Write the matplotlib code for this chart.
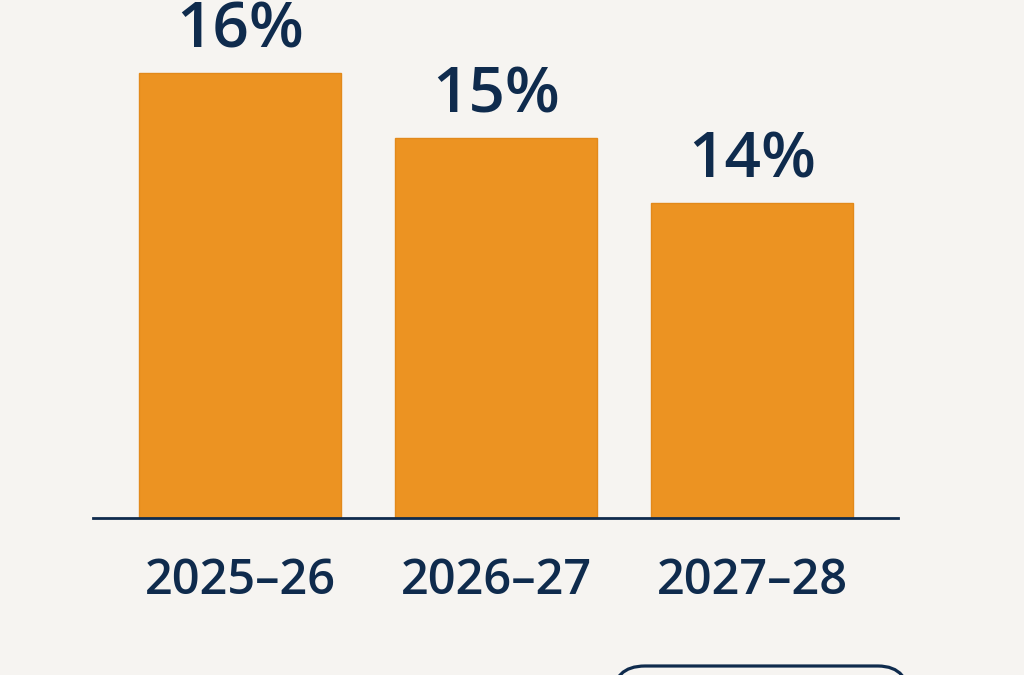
import matplotlib.pyplot as plt
from matplotlib.patches import FancyBboxPatch
from matplotlib.transforms import IdentityTransform

# chart values
years = ["2025\u201326", "2026\u201327", "2027\u201328"]
shares = [16, 15, 14]
share_labels = ["16%", "15%", "14%"]

BG = "#f6f4f1"
ORANGE = "#ec9322"
NAVY = "#0f2b4d"

plt.rcParams["font.family"] = ["Open Sans", "DejaVu Sans"]

fig = plt.figure(figsize=(10.24, 6.75), dpi=100, facecolor=BG)
ax = fig.add_axes([93 / 1024, 1 - 518 / 675, 805 / 1024, 518 / 675])
ax.set_facecolor(BG)

x = range(len(years))
bars = ax.bar(x, shares, width=0.79, bottom=0, color=ORANGE,
              edgecolor="#e2891b", linewidth=1, zorder=2)

# axis does not start at zero in the original
ax.set_ylim(9.15, 17.12)
ax.set_xlim(-0.574, 2.57)

for b, lab in zip(bars, share_labels):
    ax.annotate(lab, (b.get_x() + b.get_width() / 2, b.get_height()),
                xytext=(0, 18), textcoords="offset points",
                ha="center", va="baseline", fontsize=46,
                fontweight="semibold", color=NAVY)

ax.set_xticks(list(x))
ax.set_xticklabels(years, fontsize=35, fontweight="semibold", color=NAVY)
ax.tick_params(axis="x", length=0, pad=28)
ax.set_yticks([])

for side in ["top", "right", "left"]:
    ax.spines[side].set_visible(False)
ax.spines["bottom"].set_color(NAVY)
ax.spines["bottom"].set_linewidth(2)

# rounded box peeking in at the bottom edge
box = FancyBboxPatch((613, -60), 297, 69, boxstyle="round,pad=0,rounding_size=32",
                     transform=IdentityTransform(), facecolor="none",
                     edgecolor=NAVY, linewidth=2.3)
fig.patches.append(box)

fig.savefig("out.png", dpi=100, facecolor=BG)
